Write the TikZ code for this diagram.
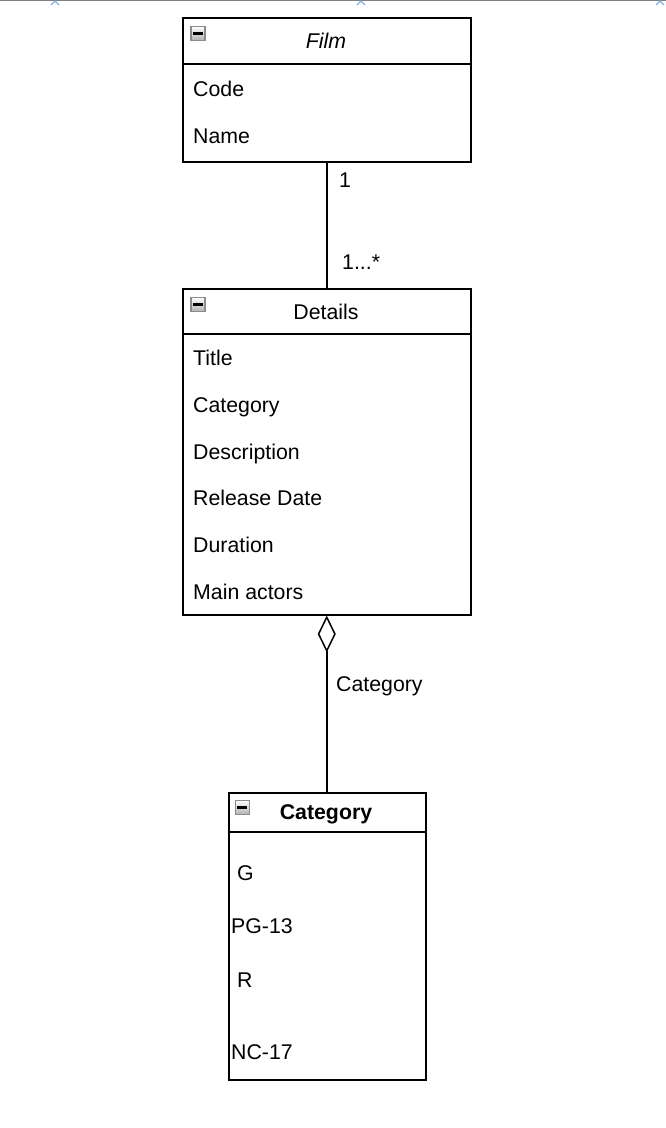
\documentclass[tikz,border=0pt]{standalone}
\usepackage{fontspec}
\setmainfont{Liberation Sans}
\usetikzlibrary{arrows.meta,calc}
\begin{document}
\begin{tikzpicture}[x=1pt,y=-1pt,
  umlbox/.style={draw=black,line width=1.5pt,rectangle,inner sep=0pt,anchor=north west},
  sep/.style={line width=1.5pt},
  txt/.style={anchor=base west,inner sep=0pt,font=\fontsize{21.3}{25}\selectfont},
  ttl/.style={anchor=base,inner sep=0pt,font=\fontsize{21.3}{25}\selectfont},
  conn/.style={line width=1.5pt},
  icon/.style={draw=black!45,line width=1.5pt,top color=white,bottom color=black!30,minimum size=14pt,inner sep=0pt,anchor=north west},
  handle/.style={draw=cyan!60!blue!50,line width=1.3pt}
]
\useasboundingbox (0,0) rectangle (666,1128);

% canvas edge with selection handles
\draw[black!50,line width=1.5pt] (0,0.5) -- (666,0.5);
\foreach \hx in {55,361,660}{
  \draw[handle] (\hx-4,5) -- (\hx,1) -- (\hx+4,5);
}

% Film class
\node[umlbox,minimum width=288pt,minimum height=144pt] (film) at (182,17) {};
\draw[sep] (182,64) -- (470,64);
\node[icon] (filmicon) at (190,25.5) {};
\draw[line width=3pt] ($(filmicon.center)+(-5,0)$) -- ++(10,0);
\node[ttl,font=\fontsize{21.3}{25}\selectfont\itshape] (filmtitle) at (326,48.5) {Film};
\node[txt] (fcode) at (193,96) {Code};
\node[txt] (fname) at (193,143) {Name};

% Details class
\node[umlbox,minimum width=288pt,minimum height=326pt] (details) at (182,288) {};
\draw[sep] (182,334) -- (470,334);
\node[icon] (deticon) at (190,296.5) {};
\draw[line width=3pt] ($(deticon.center)+(-5,0)$) -- ++(10,0);
\node[ttl] (dettitle) at (326,319.5) {Details};
\node[txt] (dtitle) at (193,365.5) {Title};
\node[txt] (dcat) at (193,412.5) {Category};
\node[txt] (ddesc) at (193,459.5) {Description};
\node[txt] (drel) at (193,505.5) {Release Date};
\node[txt] (ddur) at (193,552.5) {Duration};
\node[txt] (dact) at (193,599.5) {Main actors};

% Category class
\node[umlbox,minimum width=197pt,minimum height=287pt] (category) at (228,792) {};
\draw[sep] (228,832) -- (425,832);
\node[icon] (caticon) at (234.5,799.5) {};
\draw[line width=3pt] ($(caticon.center)+(-5,0)$) -- ++(10,0);
\node[ttl,font=\fontsize{21.3}{25}\selectfont\bfseries] (cattitle) at (326,819.5) {Category};
\node[txt] (cg) at (237,880.5) {G};
\node[txt] (cpg) at (231,933.5) {PG-13};
\node[txt] (cr) at (237,987.5) {R};
\node[txt] (cnc) at (231,1059.5) {NC-17};

% associations
\draw[conn] (film.south) -- (details.north);
\node[txt] (mone) at (339,187.5) {1};
\node[txt] (mmany) at (342,269.5) {1...*};

\draw[conn,-{Diamond[open,length=37pt,width=18pt,line width=1.5pt]}] (category.north -| details.south) -- (details.south);
\node[txt] (agglabel) at (336,691.5) {Category};
\end{tikzpicture}
\end{document}
